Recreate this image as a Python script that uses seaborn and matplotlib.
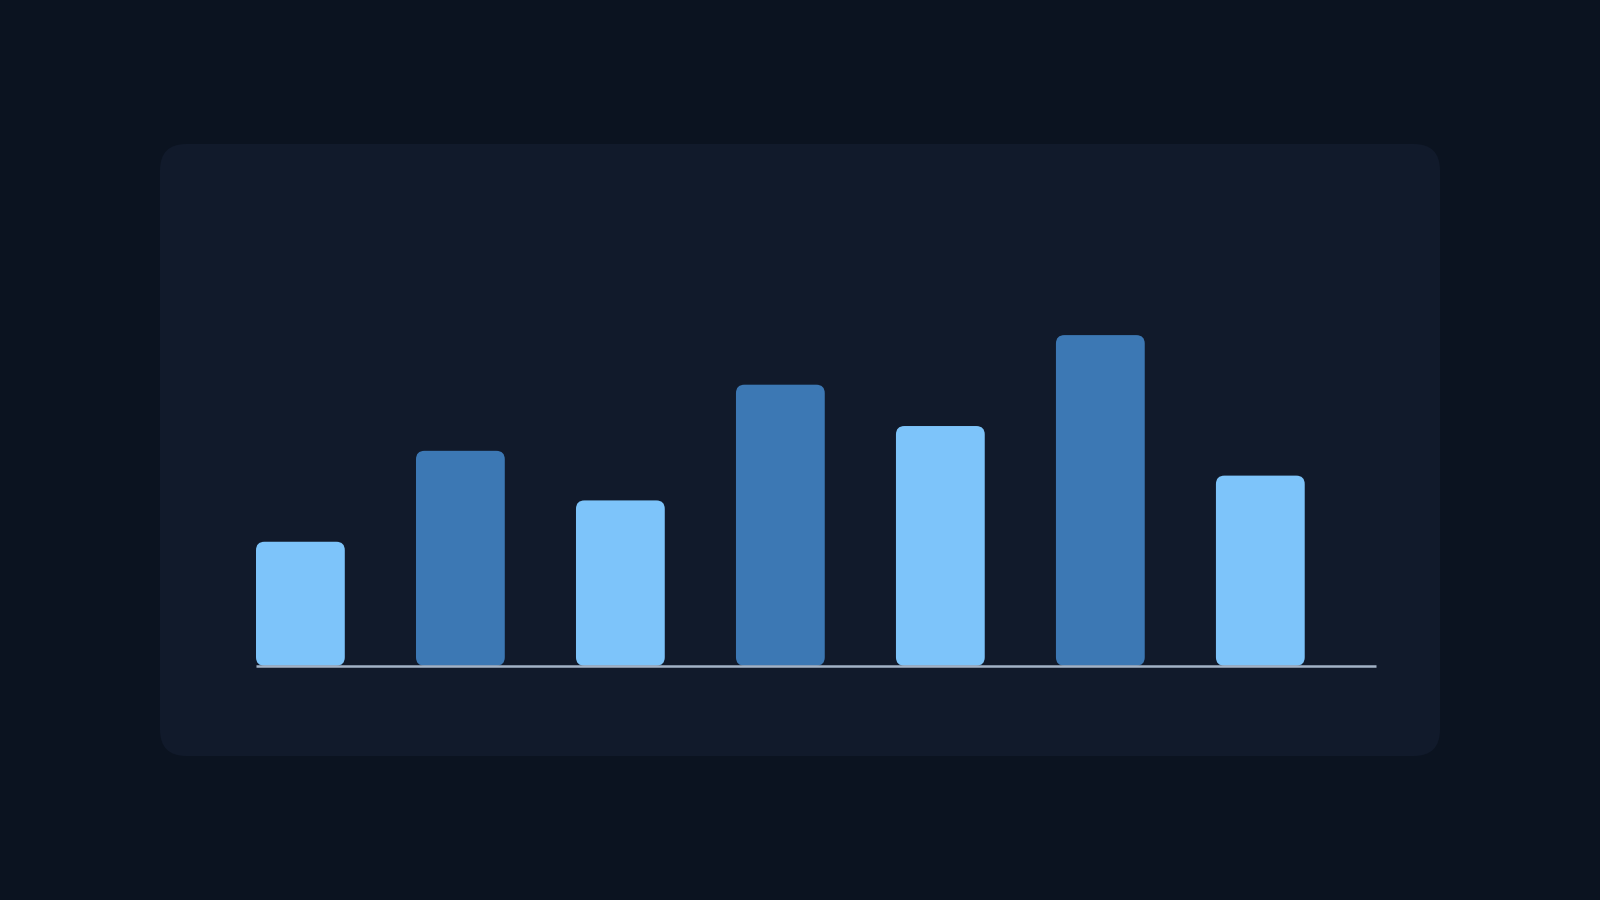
import matplotlib
matplotlib.use("Agg")
import matplotlib.pyplot as plt
from matplotlib.patches import FancyBboxPatch
import pandas as pd
import seaborn as sns

# data (no labels shown in the reference)
categories = ["A", "B", "C", "D", "E", "F", "G"]
values = [30, 52, 40, 68, 58, 80, 46]
bar_colors = ["#7dc4fa", "#3c78b4", "#7dc4fa", "#3c78b4", "#7dc4fa", "#3c78b4", "#7dc4fa"]

page_bg = "#0b1320"
card_bg = "#111a2b"
axis_color = "#a3b3c6"

df = pd.DataFrame({"category": categories, "value": values})

sns.set_theme(style="white")
fig = plt.figure(figsize=(16, 9), dpi=100)
fig.patch.set_facecolor(page_bg)

# rounded card behind the chart
card = FancyBboxPatch((160 / 1600, 1 - 756 / 900), 1280 / 1600, 612 / 900,
                      boxstyle="round,pad=0,rounding_size=0.0165",
                      mutation_aspect=1600 / 900,
                      transform=fig.transFigure, facecolor=card_bg,
                      edgecolor="none", zorder=-5)
fig.patches.append(card)

ax = fig.add_axes([0.16, 0.2603, 0.7003, 0.4592])
ax.set_facecolor("none")
ax.set_zorder(2)

sns.barplot(data=df, x="category", y="value", hue="category",
            palette=bar_colors, legend=False, width=0.555, ax=ax,
            saturation=1)

ax.set_xlim(-0.2775, 6.726)
ax.set_ylim(0, 100)

# swap plain bars for rounded ones
fig.canvas.draw()
px_x = ax.transData.transform((1, 0))[0] - ax.transData.transform((0, 0))[0]
px_y = ax.transData.transform((0, 1))[1] - ax.transData.transform((0, 0))[1]
aspect = px_x / px_y
radius = 8.5 / px_x
for p in list(ax.patches):
    x, y = p.get_x(), p.get_y()
    w, h = p.get_width(), p.get_height()
    rounded = FancyBboxPatch((x, y), w, h,
                             boxstyle=f"round,pad=0,rounding_size={radius}",
                             mutation_aspect=aspect,
                             facecolor=p.get_facecolor(), edgecolor="none",
                             zorder=2)
    p.remove()
    ax.add_patch(rounded)

ax.axhline(0, color=axis_color, lw=1.8, zorder=3, clip_on=False,
           solid_capstyle="butt")

ax.set_xticks([])
ax.set_yticks([])
ax.set_xlabel("")
ax.set_ylabel("")
sns.despine(ax=ax, left=True, bottom=True)

fig.savefig("out.png", dpi=100, facecolor=page_bg)
